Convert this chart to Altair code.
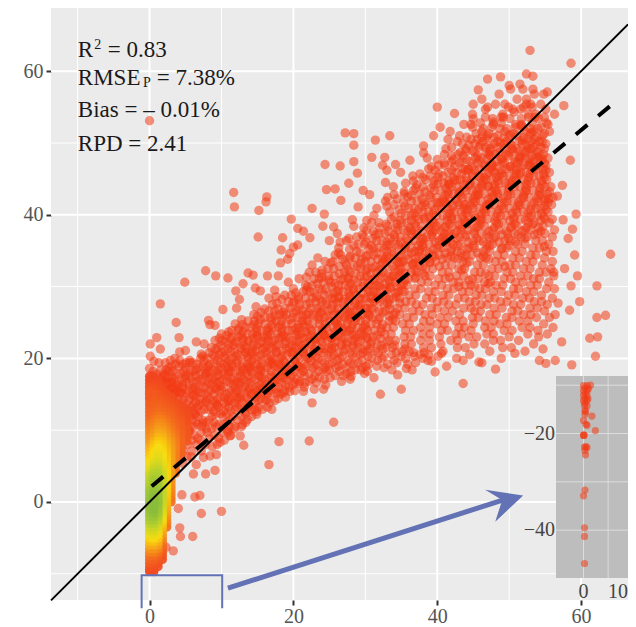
import altair as alt
import pandas as pd

# --- scattered points (x, y) ---
outliers = [(0,53.1),(11.7,43.1),(11.8,41.1),(16.3,42.5),(16.2,41.8),(15.2,40.6),(22.6,40.9),(15.1,36.9),(19.7,39.4),(20.6,38.1),(21.4,37.7),
(18.5,36.8),(20.6,35.8),(22.3,36.8),(20,35.5),(18.3,35.1),(19.5,34.6),(19.2,33.8),(18.2,33.3),(7.8,32.2),(9.2,31.5),(10.9,31.2),(13.7,31.9),(14.4,31.6),
(16.4,31.5),(4.9,30.6),(1.5,27.6),(13,30.4),(12,29.4),(14.7,29.8),(15.4,29.4),(17.4,29.5),(12.5,28.2),(10.2,26.8),(12.1,27),(14.8,27.2),(8.2,25.3),
(3.7,25),(8.4,24.7),(9.1,24.6),(1,22.9),(0.1,22),(4.1,22.9),(1.5,21.3),(6.5,22.3),(7.6,22),(0.1,20.3),(0.6,19.6),(4.2,20.9),(5,21.1),(4.2,19.7),(5.6,19.4),(7.2,20.6),
(17,12.9),(18,8.4),(22.2,8.5),(16.6,5.2),(22.6,13.8),(13.1,7.9),(10,-1.3),(7.2,-1.6),(7,0.9),(6.3,0.7),(4,-0.9),(4.2,-3.6),(6,-4.8),(4.3,-4.8),(3.3,-6.8),(2.3,-6.3),
(9.1,4.4),(7.8,3.9),(6.1,3.9),(4.5,1),(9.3,6.6),(8.4,6.4),(7.5,6.2),(6.5,5.2),(12.6,9.2),(11.2,9.2),(9.8,8.3),(13.6,11.5),(14.9,12.2),(12.8,10.5),(10.8,10),
(18.6,15.2),(19.5,15.4),(21.4,15.4),(20.8,16.5),(17.7,15.2),(16.3,14.2),(14.2,12.8),(24.2,15.7),(25.6,11.1),(32.1,15),(35,15.7),(43.6,16.5),(48.1,18.5),(39.7,18.1),
(58.7,19.1),(56.4,19.7),(55.1,19.3),(54.2,19.7),(62,20.3),(62.3,23),(61.2,22.8),(57.3,22.3),(54.7,21.3),(50.8,20.7),(45.8,19.5),(43.6,19.7),(40.6,20.7),(39.2,19.6),
(38,20),(35.7,18.6),(34.5,17.7),(29.4,18.4),(28,17.5),(52.9,62.9),(58.6,61.1),(47,58.9),(48.8,59.2),(52.4,59.6),(53.3,59.3),(45.7,57.4),(50,58),(51.5,58.2),(55.3,57.1),
(57.6,55.2),(40,55),(42.4,54.1),(45,55.4),(43.7,52.6),(40.4,52.2),(39.5,51),(27.2,51.4),(28.4,51.3),(28.4,49.7),(31.4,50.4),(33.4,51),(24.4,47),(26.5,46.8),(28.4,47.4),
(30.9,48),(32.7,48),(32.4,46.9),(33,46.2),(34.2,47),(36.2,47.6),(38.1,49.6),(38.1,48.6),(28.9,45.8),(27.7,44.4),(24.6,43.5),(25.8,43.6),(26.6,42),(32.8,44.5),(29.7,43.4),
(30.6,42.8),(34,42.8),(35.9,42.5),(29,41.1),(24.3,40.1),(24.1,38.4),(28.2,39.3),(25.6,38.3),(59.3,40.1),(57.4,44.1),(56.7,42.6),(55.5,42.2),(58.5,47.6),(57.5,39.3),
(58.8,38),(58.2,36.7),(59.1,34.4),(54.9,35.6),(64.1,34.5),(57.7,32.5),(59.5,31.5),(56.2,32),(62.2,30.1),(58.6,30.1),(59.8,27.9),(63.4,26),(62.2,25.7),(56.8,27.7),(58.4,26.7)]

# --- cloud read row by row at uneven heights: (y, [x, ...]) ---
rows_low = [
(7.7,[4.4,8.7]),(8.6,[3.3,5.9,7.1,10.4]),(9.3,[4.7,6.2,9,11.3]),(10.2,[2.7,3.8,5.5,7.9,8.6,11.8]),(10.8,[4.2,6.7,9.6,10.3,12.9]),
(11.4,[3,5.1,5.9,7.4,8.3,11.2,12.3]),(12.3,[2.2,3.6,4.4,6.4,9.2,9.9,10.7,13.3]),(12.9,[5.3,7.6,8.2,11.9,14.6,15.7]),(13.5,[2.9,3.5,6.1,6.9,9.4,10.6,12.6,13.8]),
(14.1,[4.7,5.4,7.9,8.8,11.4,15.1,16.1,17.4]),(14.6,[2.1,3.3,6.5,9.9,10.4,12.3,13.4,14.7,18.9]),(15.2,[4.2,5.1,7.2,8.1,11.1,11.9,15.8,16.9]),
(15.7,[2.7,3.4,6,6.9,9.2,10,13,13.9,14.6,17.6,22.9]),(16.3,[1.8,4.6,5.5,7.9,8.6,11.6,12.5,15.3,16.2,18.9,19.9,24.5]),(16.8,[3,3.9,6.6,7.3,9.7,10.7,13.5,14.2,17.3,20.9,22.2,26.7]),
(17.3,[1.9,2.6,5,5.8,8.3,9.1,11.7,12.3,15.6,16.6,18.5,19.6,23.6,25.1,31.2]),(17.9,[3.7,4.4,7,7.8,10.2,11,13.4,14.3,17.6,21,22.2,27.4,29.9]),
(18.4,[1.6,2.3,5.7,6.5,8.9,9.6,12.2,13,15.2,16,18.9,19.7,24.1,25,28.6,33.7,36.5]),(18.9,[3.1,4.1,7.4,8.2,10.7,11.6,13.9,14.7,17.4,20.7,21.8,23,26.3,30.1,31.6,41.3]),
(19.4,[1.3,2.2,5.1,6,9,9.8,12.1,12.9,15.7,16.6,18.8,19.6,24.3,25.4,27.9,29,34.4,37,46.2]),(20,[3.5,7.1,8,10.6,11.4,13.8,14.5,17.3,18.1,20.8,22,23.4,26.4,30.9,32.3,35.6,42.7,48.9]),
(20.5,[8.8,9.7,12.3,13.1,15.5,16.3,19.1,19.9,24.8,25.6,28.2,29.3,33.7,37.6,38.8,44.5]),(21,[10.5,11.3,14,14.8,17.6,18.4,21.2,22.3,23.6,27,30.2,31.4,35.1,36.1,40.8,47.3,52.2]),
(21.5,[8.6,9.5,12.6,13.4,16,16.8,19.4,20.2,24.9,25.7,28.4,29,32.9,33.8,38.1,39.2,42.8,43.9,49.1,50.3]),(22,[11,11.8,14.4,15.2,18,18.8,21.6,22.5,26.6,27.4,30.7,31.7,35.5,36.4,40.5,45.1,46.6,53.4]),
(22.5,[9.1,10.1,13,13.8,16.5,17.3,20,20.8,23.8,24.7,28.3,29.4,33.3,34.2,37.7,38.9,41.9,42.8,47.8,48.8,51.3]),(23,[11.5,12.3,15,15.8,18.3,19,22,22.9,25.9,26.7,30.3,31,35.4,36.3,40.3,44.4,45.5,50,54.1]),
(23.4,[10,13.6,14.3,16.9,17.8,20.3,21.1,24.2,25.1,28.1,29.2,32.7,33.6,38,39,42.6,43.4,46.9,47.8,52.6,55.3]),(23.9,[11.4,12.3,15.4,16.3,19.2,19.8,22.5,23.4,26.9,27.8,30.3,31.3,35.6,36.7,40.6,41.4,44.7,49.3,50.4,54]),
(24.3,[13.3,14.1,17.1,17.9,20.8,21.6,24.6,25.5,28.9,29.7,33,33.9,37.7,38.9,43,43.8,46.6,47.5,51.8,52.9,56.1]),(24.8,[11.9,15.1,16,19,19.8,22.7,23.6,26.6,27.5,30.8,31.6,35.2,36.1,40,41,45,48.7,49.7,54.8]),
(25.2,[13.7,14.6,17.6,18.4,21.2,22,25,25.8,28.6,29.4,33.3,34.2,38.1,39,42.6,43.6,46.7,47.9,51.4,52.6]),(25.7,[16,16.8,19.9,20.6,23.5,24.3,27.2,28,31,32,35.8,36.7,40.4,41.5,44.9,45.7,49.6,50.4,53.8,55.6]),
(26.1,[14.5,18.1,19,21.8,22.7,25.6,26.4,29.6,30.5,33.9,34.8,38.3,39.3,43.1,47.3,48.2,52,53,56.4]),(26.6,[16.6,17.4,20.4,21.3,24,24.8,27.8,28.6,31.9,32.8,36.6,37.5,41,42.1,45.2,46,50.4,51.2,54.9]),
(27,[18.8,19.6,22.4,23.3,26.2,27.1,30,30.9,34.5,35.5,39.2,40,43.7,44.7,47.9,49,52.9,53.9]),
]
rows_mid = [
(27.5,[17.1,20.9,21.8,24.7,25.5,28.5,29.3,32.6,33.4,37.1,38,41.6,42.6,46.1,46.9,50.6,51.6,55.3]),(27.9,[19.3,20.1,23.1,24,26.9,27.7,31.2,32,35.6,36.4,40,40.9,44.5,45.3,48.8,49.7,53.5,54.5]),
(28.4,[16.6,21.7,22.6,25.4,26.3,29.2,30,33.9,34.8,38.5,39.3,42.9,43.8,47.2,48,51.9,52.8,56]),(28.8,[18.8,19.7,24.3,25,27.9,28.7,31.7,32.6,36.1,37,40.8,41.6,45.4,46.2,49.9,50.8,54.5]),
(29.3,[21.4,22.3,26.1,26.9,30.4,31.1,34.6,35.4,38.8,39.7,43.5,44.4,47.8,48.9,52.4,53.4]),(29.7,[20,23.6,24.5,28.3,29.1,32.6,33.5,36.9,37.7,41.4,42.3,45.9,46.7,50.6,51.3,55.2,56.3]),
(30.2,[21.7,22.6,26.3,27.2,30.7,31.5,35,35.8,39.7,40.6,43.9,44.7,48.2,49.1,53,53.9]),(30.6,[19.3,24.2,25.2,28.9,29.7,33.4,34.2,37.8,38.7,42.2,43,46.6,47.4,50.9,51.9,55.5]),
(31.1,[20.8,22.9,23.6,26.9,27.7,31.3,32.1,36,36.9,40.2,41.1,44.9,45.7,49.3,50.2,53.4,54.2]),(31.5,[17.9,24.9,25.7,29.3,30.2,33.9,34.8,38.3,39,42.7,43.7,47.2,48,51.6,52.6,56.2]),
(32,[22.2,23.1,27.1,27.9,31.6,32.5,36.4,37.2,40.7,41.6,45.2,46,49.7,50.5,54.2,55.1]),(32.5,[24.8,25.6,29.4,30.3,34.1,34.9,38.4,39.4,43,43.8,47.6,48.5,52,52.9,55.8]),
(33,[22.6,27.4,28.4,32.1,32.9,36.6,37.5,41.1,42,45.6,46.4,50.1,50.9,54.6]),(33.5,[24.4,25.5,30,30.8,34.5,35.3,39,39.8,43.6,44.5,48.1,49,52.4,53.3,56]),
(34,[23.4,27.8,28.6,32.4,33.2,37,38,41.4,42.4,46,46.8,50.5,51.4,54.9]),(34.4,[25.8,26.6,30.4,31.2,35,35.9,39.4,40.3,44,44.8,48.4,49.3,53,53.7]),
(34.9,[28.8,33,33.7,37.5,38.4,41.9,42.8,46.4,47.3,50.9,51.8,55.2,56.1]),(35.4,[26.3,31.1,31.9,35.5,36.4,40,40.8,44.4,45.2,49,49.7,53.3,54.2]),
(35.9,[29,29.9,33.4,34.2,38,38.9,42.2,43.2,46.9,47.7,51.2,52.2,55.5]),(36.4,[25,27.4,31.6,32.3,36,36.8,40.3,41.1,45,45.8,49.4,50.2,53.7,54.6]),
(36.9,[28.8,29.8,34.1,34.9,38.5,39.4,43.1,43.9,47.2,48.1,51.7,52.5,56]),(37.4,[26.1,31.9,32.7,36.4,37.2,41,41.8,45.2,46.1,49.8,50.7,54,55]),
(37.9,[30.2,34.5,35.3,39,39.8,43.3,44.2,47.7,48.6,52.2,53,56.3]),(38.4,[28.4,33.1,37,37.8,41.2,42.1,45.7,46.6,50.3,51.1,54.7]),
(38.9,[30.9,31.9,35,35.8,39.5,40.3,43.9,44.7,48.2,49.1,52.7,53.5,55.6]),(39.4,[33.6,37.4,38.2,42,42.8,46.2,47,50.6,51.6,55,56]),
(39.9,[31.2,35.6,36.4,39.9,40.8,44.3,45.1,48.8,49.6,53.1,54]),
]
rows_high = [
(40.4,[33.4,38,38.8,42.4,43.3,46.7,47.5,51.1,52,55.4]),(40.9,[31.6,36,36.8,40.6,41.4,45,45.8,49.2,50,53.7,54.4]),(41.4,[34,38.4,39.2,43,43.7,47.2,48,51.5,52.3,55.9]),
(41.9,[32.8,36.4,37.2,41,41.7,45.3,46.1,49.7,50.5,54,54.9]),(42.4,[33.1,39.1,39.9,43.5,44.3,47.6,48.5,52,52.8,56.1]),(42.9,[35.4,37.6,41.5,42.2,45.8,46.6,50.2,51.1,54.4,55.3]),
(43.4,[36.7,39.6,40.4,44,44.8,48.2,49,52.4,53.3]),(43.9,[33.9,38,42,42.7,46.2,47.1,50.7,51.5,55,55.8]),(44.4,[35.6,40.1,40.9,44.6,45.3,48.6,49.5,53,53.8]),
(44.9,[38.4,42.4,43.2,46.8,47.6,51,52,55.2]),(45.4,[36.6,39,40.8,44.9,45.8,49.2,50,53.4,54.2]),(45.9,[34.9,41.5,42.7,47.2,48,51.6,52.4,55.6]),(46.4,[38.8,43.6,44.3,45.9,49.5,50.5,54,54.7]),
(46.9,[40.2,41,46.7,47.7,52,52.8,55.1]),(47.4,[42,43.4,44.6,48.3,49.1,50.9,53.4,54.3]),(47.9,[38.6,45.3,46.2,51.4,52.2,55.4]),(48.4,[41,42.9,47.2,48,49.6,53.6,54.8]),(48.9,[44,44.9,50.5,51.3,52.4]),
(49.4,[42,45.8,46.7,48.4,53.4,54.4]),(49.9,[43.5,47.9,49.3,50.2,51.8,55.1]),(50.5,[41.5,44.7,45.6,52.6,53.5]),(51,[43.1,47,48.4,50,51.1,54.6]),(51.6,[41.8,46.2,49.4,52.2,53.4,55.6]),
(52.2,[44.9,47.6,50.9,51.9,54.4]),(52.8,[46,48.9,53.2,55.2]),(53.4,[45,47.7,50.1,51.7,54.1]),(54,[44.9,49.1,52.7,53.7,56.3]),(54.7,[46.7,50.5,51.6,55.1]),(55.4,[48.1,49.4,53,54.4]),(56.1,[46.2,51.1,52.4]),(56.8,[48.6,53.5,54.8]),(57.5,[50.2,51.9,53.3]),
]
# second reading of the thick part of the cloud: rows between the ones above
fill_low = [
(5.4,[3.7,4.6]),(6.3,[3.9,5.2,5.8]),(7.1,[3.6,4.7,5.9,7.2]),(8,[4.1,5.3,6.5,7.8,9.4]),(8.9,[3.7,4.9,6.7,8.3,9.6]),(9.7,[4.3,5.4,7.2,8,10.1,10.9]),(10.5,[3.4,5,6.1,7.3,9.2,11.1,11.9]),
(11.1,[3.6,4.6,6.4,7.8,9,10.8,13.4]),(11.9,[2.9,5.6,6.8,8.7,10.2,11.6,12.8,14.2]),(12.6,[3.3,4.8,6,7.1,8.9,10.3,11.3,13.2,14.9]),(13.2,[2.4,4.1,5.7,6.6,8.5,9.6,11,12.2,13.7,15.2,16.4]),
(13.8,[3.2,4.5,6.4,7.4,9.1,10.4,11.8,12.9,14.7,16.7]),(14.4,[2.6,3.9,5.6,7,8.3,9.5,11,12.1,13.6,15.5,17.9]),(15,[3.1,4.6,6,7.7,8.9,10.7,12.6,14.1,15.2,16.4,18.2]),(15.5,[2.3,3.9,5.4,6.5,8.5,9.7,11.4,12.2,13.7,15,16.6,18.8,20.2]),
(16,[3.3,4.1,6.3,7.5,9.1,10.3,11.9,13.3,14.9,16.7,17.9,19.4,21.5]),(16.6,[2.4,5.1,6.1,8.2,9.4,11.2,12.2,13.9,15.6,17,18.4,20.2,21.6,23.2]),(17.1,[3.4,4.5,7,8.8,10.2,11.4,13,14.7,16,17.9,19.1,20.4,22.6,24.3,27.9]),
(17.6,[2.2,5.5,6.4,7.7,9.5,10.5,12.7,13.7,15.1,16.9,18.2,19.8,21.5,23,25.8,26.9]),(18.2,[3.2,4.8,6.1,8.3,9.3,11.3,12.6,14.1,15.5,17,18.5,20.2,21.4,23.5,24.6,26.4,28,30.3]),(18.7,[2.7,5,6.9,7.9,10,11,12.9,13.6,15.4,16.4,18,19.2,21.1,22.7,24.4,25.9,27.4,29.6,32.6]),
(19.2,[3.6,4.6,6.6,8.4,10.3,11.4,13.6,14.9,17,18,20.4,21.6,23.2,25,26.9,28.4,30.5,33.1,35.9]),(19.7,[2.9,5.6,7.6,9.4,11,12.3,14.2,15.6,16.9,18.6,20.2,22.5,24,26.1,27.6,29.6,31.7,34,38.7]),(20.3,[7.4,9.1,10.4,12,13.6,15,16.8,18.4,20.6,21.7,23.1,25.2,26.8,28.7,30.4,32.6,35,36.8,40.1]),
(20.8,[8.3,10,11.8,13.4,14.3,16.1,17.7,19.6,21.4,22.8,24.2,26.2,27.9,29.7,31.8,34.3,36.7,38.2]),(21.3,[9.2,10.9,12.8,14.3,15.7,17.2,19,20.7,22.9,24.4,25.3,27.3,29.6,30.7,32.4,35.5]),(21.8,[9.9,11.6,13.1,14.9,16.3,17.6,19.8,21.1,23.2,25.4,26.7,28.3,30.2,32.2,34.1]),
(22.3,[10.5,12,13.7,15.6,17,18.9,20.4,22.2,24,25.8,27.5,29,30.9,33]),(22.8,[9.7,11.2,12.9,14.5,16.1,18,19.4,21.4,23.2,25.2,27.1,28.6,30.2,32.1]),(23.2,[10.7,12.7,14.9,16.4,18.6,20.8,22.4,24.2,26.3,28.4,29.7,31.6]),
(23.7,[11,13,14.9,16.6,18.4,20.5,21.8,24,25.7,27.4,29.4,32.2]),(24.2,[12.4,14.9,16.5,18.4,20.3,22.3,24.1,26.2,28.1,30.1,32.2]),
]
fill_mid = [
(24.7,[12.9,14.5,17,18.2,20.7,21.4,24.4,26.1,28.2,30,32.4]),(25.4,[12.8,15.4,17,19.6,21.8,23.7,26.1,27.7,30,31.8,33.8]),
(25.9,[15,17.4,18.6,21.2,23,24.8,26.9,28.9,30.6,33.3]),(26.4,[15.5,18.6,20,22.1,23.8,25.9,28.1,30.2,32.4,34.2]),
(26.9,[16,17.9,20.8,23.6,25.3,27.4,29.3,31.2,33.4]),(27.7,[17.7,19.9,22.3,24.5,26.1,28.6,30.6,33.1,34.8]),
(28.2,[18.4,20.7,23.7,25.7,27.1,29.6,31.5,33.3]),(28.6,[17.6,20.7,23.2,26.3,27.8,30.8,32.9,34.3]),
(29.1,[20.3,22.9,25.6,27.7,29.7,31.6,34.2]),(29.5,[21.8,24,26.3,28.4,30.6,33,35.1]),
(30,[22,25.3,27.7,29.7,31.8,34.4,43,45.2]),(30.4,[23.3,25.8,27.9,30.4,32.8,35.3,47.1]),
(30.9,[24.9,26.6,28.4,31,33.3,35.5,44.4]),(31.3,[21.8,24,27.6,29.9,32.4,34.4,37,41.7]),
(31.8,[23.9,26.4,28.7,30.8,33.2,35.6,38,46.7]),(32.3,[24,27.6,30.1,32,34.6,36.9,43.4]),
(32.8,[26.4,28.9,31.4,33.8,35.7,38,40.3,49.4]),(33.3,[25.2,27.2,29.4,32.4,34.7,36.9,39,44.1]),
(33.8,[26.8,29.5,31.7,33.9,36,38.5,40.7,42.9,47.2]),(34.2,[27.9,30.1,32.9,34.7,37.4,39.6,41.9,43.6,46.4]),
(34.7,[26.3,29.3,31.6,34,36.4,38.9,41.1,43.3,45.6]),(35.2,[27.8,30.5,32.6,35.1,37.6,39.5,42,44.1,46.8,48.9]),
(35.7,[28.4,30.8,33,35.6,37.3,40.2,42.9,45,47.3,50]),(36.2,[26.5,30.1,33,34.9,37.7,39.7,41.9,44.3,46.4,48.6,50.9]),
(36.7,[27.7,31,33.5,35.7,38,40.6,42.7,45.5,47.8,49.9,52.2]),(37.2,[29.6,31.4,34,37,39.2,41.6,44,46.9,48.9,51.2,53.5]),
(37.7,[31.1,33.2,35.9,37.9,40.5,42.8,45.1,47.2,49.6,51.8,54.4]),(38.2,[29.8,32,34.2,36.2,38.8,41,43.3,45.4,47.9,50.2,52.4,54.1]),
(38.7,[32.9,34.4,36.9,39,41.7,44.1,46,48.5,50.8,53.3]),(39.2,[30.2,34.8,36.4,39.3,41.4,43.8,45.9,48,50.1,52.3,54.4]),
]
fill_high = [
(39.7,[34,37,38.9,41.4,43.5,46,48.2,50.7,52.8,54.8]),(40.2,[35,36.8,39.4,41.7,44,46.2,48.4,50.4,52.6,54.5]),(40.7,[34.7,37.4,39.6,41.9,44.2,46.5,48.6,50.9,53,55.1]),(41.2,[33,35.5,37.9,40.1,42.2,44.6,46.8,48.9,51.2,53.1,54.9]),
(41.7,[35.3,38.2,40.4,42.8,45,47.3,49.3,51.3,53.5,55.4]),(42.2,[34.4,37.9,40.8,42.6,45,47.1,49.2,51.7,53.8,55]),(42.7,[36.4,38.9,41.1,43.2,45.3,47.8,49.8,52,54.1]),(43.2,[35.4,38.3,41.5,43.1,45.5,47.6,49.9,52.2,54.2,55.6]),
(43.7,[37,39.1,41.2,43.7,45.8,47.9,50,52.3,54.3]),(44.2,[37.2,39.5,41.6,43.7,46.2,48,50.3,52.4,54.6]),(44.7,[36.7,39.6,41.6,44.1,46.4,48.4,50.4,52.6,54.5]),(45.2,[38,40.1,42.2,44,46.5,48.2,50.7,52.7,54.9]),
(45.7,[37.6,40.2,43.4,44.9,46.9,48.9,51,52.9,54.8]),(46.2,[39.7,42,43.9,45.2,47.7,49,51,53.2,55.1]),(46.7,[39.2,42.4,44.8,46.6,48.3,50.2,51.6,53.7]),(47.2,[41,43.1,45.6,47.5,49.4,51.2,53,54.9]),
(47.7,[40,42.2,44.1,46.9,48.9,50.7,52.8,54.6]),(48.2,[42,43.6,45.6,47.4,49.9,51.6,53.2,54.3]),(48.7,[43.2,45.2,46.8,48.6,50,52.2,53.9]),(49.2,[41.2,44,47.4,49.3,51.1,52.6,54.9]),
(49.7,[44.4,46,47.2,50.3,52.4,53.7]),(50.2,[42.8,46.3,48.4,49.6,51.4,53,54.6]),(50.8,[44.1,46.2,47.9,49.3,52,53.8]),(51.3,[45.4,47.2,50.6,52.9,54.9]),(52,[46.4,48.7,49.7,53,54]),(52.6,[44.7,47.8,50.9,51.7,55.4]),(53.6,[46.7,49.2,52.7,54.9]),(55,[47,49.9,52,53.2]),
]
# extra points in the densest part of the cloud, next to the 1:1 line
core = [(43,43),(44.5,44.1),(46,45.2),(47.5,46.6),(49,47.9),(50.4,49.2),(51.8,50.4),(53.1,51.5),(44,41.4),(45.6,42.7),(47.1,44),(48.6,45.4),(50.1,46.7),
(51.6,48),(53,49.2),(54.2,50.2),(42,39.7),(43.7,40.9),(45.3,39.6),(46.9,41.4),(48.4,42.9),(49.9,44.3),(51.4,45.6),(52.8,46.9),(54,48),(41.2,41.6),(42.7,44.8),
(44.3,46.3),(45.8,47.6),(47.3,48.8),(48.8,50),(50.2,51.2),(51.6,52.4),(39.4,37.6),(40.8,36.9),(42.3,37.3),(38,35.5),(36.6,33.2),(35,31.9),(33.4,29.9),
(31.8,28.4),(30.2,27),(28.6,25.6),(27,24.2),(25.4,22.8),(23.8,21.4),(22.2,20),(20.6,18.9),(19,17.8),(17.4,16.9),(15.8,15.9),(14.2,15.1),(12.6,14.5),
(11,14),(9.4,13.5),(7.8,13.9),(6.2,14.8),(4.6,15.9),(3,16.6),(5,17.6),(8,17.9),(11,18.2),(14,18.7),(17,19.4),(20,20.9),(23,22.6),(26,24.9),(29,27.3),(32,30.1),(35,33.4),(38,36.6),
(6.3,12.2),(4.9,11.2),(7.4,10.9),(5.6,9.9),(9.8,16.2),(12.6,16.7),(15.3,17.6),(18.2,19.1),(21.5,21.4),(24.4,23.2),(27.7,26.1),(30.8,28.3),(33.6,31.4),(36.9,34.9),(39.9,38.4),(41.3,36.1),(43,38.6),
(47.8,52.9),(48.9,53.6),(50.7,54.3),(46.8,50.7),(45.2,49.9),(52.4,55.4),(53.6,53.6),(41.6,44.3),(40,41.7),(38.2,39.6),(36.4,37.8),(34.6,35.8),(32.7,33.8),(30.9,32.6)]

# --- density-coloured column next to x = 0: heat level per row ---
heat_cols = [0, 0.6, 1.2, 1.8, 2.4, 3, 3.6, 4.4, 5.2]
heat_rows = [
(17.5,[0,0]),(17,[0,0,0]),(16.5,[0.2,0.2,0.2]),(16,[0.5,0.5,0.3,0]),(15.5,[0.8,0.7,0.5,0.3]),(15,[1,1,0.7,0.5,0.3]),
(14.5,[1,1,0.9,0.7,0.5,0.3]),(14,[1,1.2,1.1,1,0.7,0.5,0.3]),(13.5,[1.1,1.4,1.4,1.2,0.9,0.7,0.5,0.2]),(13,[1.2,1.6,1.7,1.4,1.2,1,0.6,0.4,0.1]),(12.5,[1.4,1.8,2,1.8,1.5,1.2,0.8,0.5,0.2]),
(12,[1.6,2,2.3,2.2,1.9,1.5,1,0.6,0.3]),(11.5,[1.9,2.4,2.7,2.6,2.2,1.8,1.3,0.8,0.4]),(11,[2.2,2.7,3.1,3,2.5,2.1,1.5,1,0.5]),(10.5,[2.5,3,3.5,3.3,2.8,2.3,1.7,1.2,0.6]),(10,[2.8,3.3,3.9,3.7,3.1,2.5,1.9,1.3,0.7]),
(9.5,[3,3.7,4.3,4.2,3.5,2.8,2.2,1.5,0.8]),(9,[3.3,4,4.7,4.5,3.8,3.1,2.4,1.6,0.8]),(8.5,[3.6,4.5,5.2,5,4.2,3.4,2.6,1.7,0.8]),(8,[4,5,5.7,5.3,4.5,3.6,2.7,1.7]),(7.5,[4.4,5.4,6,5.6,4.7,3.8,2.8,1.6]),
(7,[4.8,5.8,6.2,5.8,4.9,3.9,2.8,1.5]),(6.5,[5.2,6,6.4,6,5.1,4,2.8,1.4]),(6,[5.6,6.2,6.6,6.1,5.2,4,2.7]),(5.5,[6,6.6,6.9,6.3,5.3,4,2.6]),(5,[6.3,7,7.3,6.5,5.5,4,2.4]),(4.5,[6.7,7.5,7.7,6.8,5.6,3.9,2.2]),
(4,[7.1,8,8.1,7,5.7,3.8,2]),(3.5,[7.5,8.4,8.4,7.2,5.7,3.6]),(3,[7.9,8.8,8.7,7.3,5.7,3.4]),(2.5,[8.2,9,8.9,7.5,5.7,3.2]),(2,[8.5,9.3,9.1,7.6,5.6,3]),(1.5,[8.9,9.5,9.2,7.6,5.5,2.8]),(1,[9.2,9.7,9.3,7.6,5.3,2.6]),
(0.5,[9.4,9.9,9.4,7.5,5,2.3]),(0,[9.5,10,9.5,7.4,4.8,2]),(-0.5,[9.6,10,9.4,7.2,4.5]),(-1,[9.5,9.9,9.1,6.9,4.2]),(-1.5,[9.3,9.7,8.8,6.6,3.8]),(-2,[9,9.3,8.4,6.2,3.3]),(-2.5,[8.5,8.7,7.9,5.8,2.9]),(-3,[7.9,8.1,7.3,5.3,2.4]),
(-3.5,[7.2,7.5,6.9,4.8,2]),(-4,[6.8,7,6.4,4.2]),(-4.5,[6.3,6.5,5.9,3.6]),(-5,[5.7,5.9,5.3,3]),(-5.5,[5,5.1,4.5,2.4]),(-6,[4.3,4.4,3.8,1.9]),(-6.5,[3.5,3.5,3,1.4]),(-7,[2.8,2.8,2.2,1]),(-7.5,[2.1,2.1,1.5,0.6]),(-8,[1.6,1.5,0.9,0.3]),(-8.5,[1,0.9,0.5]),(-9,[0.6,0.5,0.2]),(-9.4,[0.2,0.2]),(-9.7,[0,0]),
]
# dense red column above the coloured part
column_top = [(0,18.6),(0.5,18.2),(0.2,17.6),(1,17.8),(0.1,16.9),(0.7,17),(1.4,17.3),(2,17.8),(2.6,18.2),(0,16),(0.5,16.2),(1.1,16.4),(1.8,16.8),(2.4,16.5),(3.2,17.4),(0,15.2),(0.6,15.3),(1.5,15.7),(2.2,15.6),(3,15.9),(3.8,16.3),(0,14.5),(0.8,14.6),(1.6,14.8),(2.5,14.9),(3.5,15),(4.3,15.2)]
heat_levels = [0, 2, 4, 6, 8, 10]
heat_colors = ["#F2451F", "#F36A1E", "#F5A01C", "#F7DC13", "#B9D12C", "#88BC3C"]

# --- inset points ---
inset_pts = [(0,-10.1),(0.7,-10.1),(1.4,-10),(0.3,-10.6),(1,-10.7),(0,-11.1),(0.8,-11.1),(0.4,-11.6),(0,-12.1),(0.7,-12.2),(0.3,-12.7),(0.9,-12.8),(0,-13.2),(0.7,-13.2),(0.3,-13.7),(0.2,-14.2),(0.7,-14.3),(0.3,-15.2),(0.4,-15.5),
(1.7,-16.4),(0.3,-16),(0,-17.3),(0.7,-18.3),(0.5,-18.1),(2.4,-19.4),(0,-20.4),(0.1,-20.4),(0.05,-20.3),(0.2,-22.8),(0.7,-22.9),(0.5,-22.7),(0.3,-23.5),(0.4,-24.4),(0.3,-31.7),(0,-32.9),(0.2,-39.5),(0.2,-41.3),(0.2,-46.9)]

x_major = [0, 20, 40, 60]
x_minor = [-10, 10, 30, 50]
y_major = [0, 20, 40, 60]
y_minor = [-10, 10, 30, 50]
one_to_one = [(-13.7, -13.7), (66.52, 66.52)]
fit_line = [(0.3, 2.2), (64.1, 55.2)]
bracket = [(-1.1, -14.8), (-1.1, -10.2), (10.1, -10.2), (10.1, -14.8)]
arrow_shaft = [(10.9, -12), (49.2, 0.3)]
arrow_tip = [(49.3, -0.4)]
notes = [(-9.97, 62, "R"), (-5.8, 62, "= 0.83"), (-9.97, 58.1, "RMSE"), (1.0, 58.1, "= 7.38%"), (-9.97, 53.6, "Bias = – 0.01%"), (-9.97, 48.9, "RPD = 2.41")]
small_notes = [(-7.7, 63.1, "2"), (-0.9, 57.8, "P")]
inset_x_grid = [0, 5]
inset_y_grid = [-10, -20, -30, -40]
inset_y_ticks = [-20, -40]

SERIF = "Liberation Serif"
DX = [-13.7, 66.52]
DY = [-13.65, 68.8]
xs = alt.Scale(domain=DX, nice=False, zero=False)
ys = alt.Scale(domain=DY, nice=False, zero=False)
x_axis = alt.Axis(values=x_major, grid=False, domain=False, tickColor="#333333", tickWidth=2, tickSize=5, labelFont=SERIF, labelFontSize=20, labelColor="#555555", labelPadding=1, format="d")
y_axis = alt.Axis(values=y_major, grid=False, domain=False, tickColor="#333333", tickWidth=2, tickSize=5, labelFont=SERIF, labelFontSize=20, labelColor="#555555", labelPadding=3, format="d")
X = lambda f="x": alt.X(f"{f}:Q", scale=xs, title=None, axis=x_axis)
Y = lambda f="y": alt.Y(f"{f}:Q", scale=ys, title=None, axis=y_axis)

def frame(pairs):
    return pd.DataFrame(pairs, columns=["x", "y"])

def grid(vals, ch, w):
    d = pd.DataFrame({"v": vals})
    enc = {"x": X("v")} if ch == "x" else {"y": Y("v")}
    return alt.Chart(d).mark_rule(color="white", strokeWidth=w).encode(**enc)

cloud_pts = list(outliers) + list(core) + list(column_top)
for r in (rows_low, rows_mid, rows_high, fill_low, fill_mid, fill_high):
    for yy, xx in r:
        cloud_pts += [(v, yy) for v in xx]
cloud = alt.Chart(frame(cloud_pts)).mark_circle(size=88, color="#F23A14", opacity=0.55, clip=True).encode(x=X(), y=Y())

heat_data = []
for yy, lv in heat_rows:
    for c, h in zip(heat_cols, lv):
        heat_data.append({"x": c, "y": yy, "h": h})
# strongest density is drawn last, on top
heat_df = pd.DataFrame(heat_data).sort_values("h").reset_index(drop=True)
heat_df["o"] = range(len(heat_df))
heat = alt.Chart(heat_df).mark_circle(size=84, opacity=0.9).encode(
    x=X(), y=Y(), order="o:Q", color=alt.Color("h:Q", scale=alt.Scale(domain=heat_levels, range=heat_colors), legend=None))

def line(pairs, **kw):
    d = frame(pairs)
    d["o"] = range(len(d))
    return alt.Chart(d).mark_line(**kw).encode(x=X(), y=Y(), order="o:Q")

solid = line(one_to_one, color="black", strokeWidth=2)
dashed = line(fit_line, color="black", strokeWidth=4, strokeDash=[15, 14])
brk = line(bracket, color="#6272B4", strokeWidth=2)
shaft = line(arrow_shaft, color="#6272B4", strokeWidth=5)
head = alt.Chart(frame(arrow_tip)).mark_point(
    shape="M1,-0.49L-1,-0.79L-0.1,-0.26L-0.47,0.89Z", size=1444, filled=True, fill="#6272B4", color="#6272B4", opacity=1, strokeWidth=0
).encode(x=X(), y=Y())

def txt(rows, size, color="#1a1a1a", align="left", **kw):
    d = pd.DataFrame(rows, columns=["x", "y", "t"])
    return alt.Chart(d).mark_text(font=SERIF, fontSize=size, color=color, align=align, baseline="alphabetic", **kw).encode(x=X(), y=Y(), text="t:N")

main = alt.layer(
    grid(x_minor, "x", 1), grid(y_minor, "y", 1), grid(x_major, "x", 2), grid(y_major, "y", 2),
    cloud, heat, solid, dashed, brk, shaft, head,
    txt(notes, 23), txt(small_notes, 14),
)

# --- inset with its own scales ---
IX = alt.Scale(domain=[-5.6, 9.04], range=[505, 577], nice=False, zero=False)
IY = alt.Scale(domain=[-49.9, -8.1], range=[570, 368], nice=False, zero=False)
ix = lambda f="x": alt.X(f"{f}:Q", scale=IX, title=None, axis=None)
iy = lambda f="y": alt.Y(f"{f}:Q", scale=IY, title=None, axis=None)

panel = alt.Chart(pd.DataFrame({"a": [-5.6], "b": [9.04], "c": [-49.9], "d": [-8.1]})).mark_rect(color="#BDBDBD").encode(
    x=ix("a"), x2="b:Q", y=iy("c"), y2="d:Q")
i_gx = alt.Chart(pd.DataFrame({"x": inset_x_grid, "a": [-49.9] * 2, "b": [-8.1] * 2})).mark_rule(color="#DDDDDD", strokeWidth=1).encode(
    x=ix(), y=iy("a"), y2="b:Q")
i_gy = alt.Chart(pd.DataFrame({"y": inset_y_grid, "a": [-5.6] * 4, "b": [9.04] * 4})).mark_rule(color="#DDDDDD", strokeWidth=1).encode(
    y=iy(), x=ix("a"), x2="b:Q")
i_pts = alt.Chart(frame(inset_pts)).mark_circle(size=52, color="#F23A14", opacity=0.55).encode(x=ix(), y=iy())
i_ylab = alt.Chart(pd.DataFrame({"y": inset_y_ticks, "x": [-5.6, -5.6], "t": ["−20", "−40"]})).mark_text(
    font=SERIF, fontSize=20, color="#444444", align="right", baseline="middle", dx=-1).encode(x=ix(), y=iy(), text="t:N")
i_xlab0 = alt.Chart(pd.DataFrame({"x": [0], "y": [-49.9], "t": ["0"]})).mark_text(
    font=SERIF, fontSize=20, color="#444444", align="center", baseline="top", dy=4).encode(x=ix(), y=iy(), text="t:N")
i_xlab1 = alt.Chart(pd.DataFrame({"x": [9.04], "y": [-49.9], "t": ["10"]})).mark_text(
    font=SERIF, fontSize=20, color="#444444", align="right", baseline="top", dy=4).encode(x=ix(), y=iy(), text="t:N")
inset = alt.layer(panel, i_gx, i_gy, i_pts, i_ylab, i_xlab0, i_xlab1)

chart = alt.layer(main, inset).resolve_scale(x="independent", y="independent").properties(
    width=577, height=592, padding={"left": 43, "top": 0, "right": 0, "bottom": 27},
    autosize=alt.AutoSizeParams(type="none"), background="white",
).configure_view(fill="#EBEBEB", stroke=None)

chart.save("out.html", embed_options={"renderer": "svg", "actions": False})
